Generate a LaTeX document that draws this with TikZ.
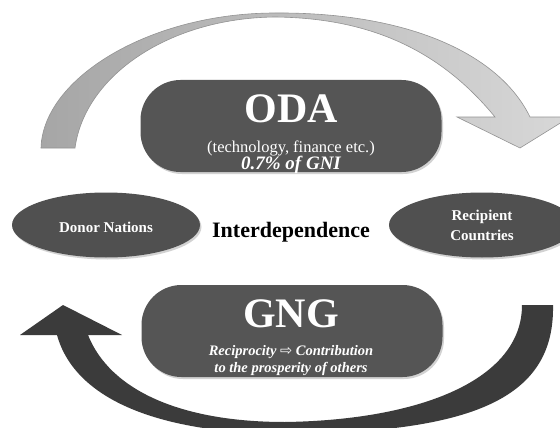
\documentclass[tikz,border=0pt]{standalone}
\usepackage{xcolor}
\usepackage{fontspec}
\setmainfont{Liberation Serif}
\newfontfamily\arrowfont{DejaVu Sans}
\usepackage{tikz}
\usetikzlibrary{shapes.geometric,shadows}
\definecolor{boxgray}{HTML}{555555}
\definecolor{nationgray}{HTML}{505050}
\definecolor{odaleft}{HTML}{A6A6A6}
\definecolor{odaright}{HTML}{D8D8D8}
\definecolor{gngdark}{HTML}{3B3B3B}
\tikzset{main box/.style={rectangle,rounded corners=40pt,fill=boxgray,minimum width=301pt,minimum height=92pt,inner sep=0pt,
              drop shadow={opacity=0.35,shadow xshift=1.5pt,shadow yshift=-2pt}},
         nation node/.style={ellipse,fill=nationgray,minimum width=188pt,minimum height=65pt,inner sep=0pt,
              drop shadow={opacity=0.35,shadow xshift=1.5pt,shadow yshift=-2pt}},
         white text/.style={text=white,inner sep=0pt,anchor=base,align=center},
            }

\begin{document}
\begin{tikzpicture}[x=1pt,y=-1pt]
	\useasboundingbox (0,0) rectangle (560,428);
	\fill[white] (0,0) rectangle (560,428);
	\clip (0,0) rectangle (560,428);

	\draw[draw=gray!85,line width=0.6pt,left color=odaleft,right color=odaright]
		(41,148) .. controls (43,78) and (150,13) .. (275,13)
		.. controls (410,12) and (500,55) .. (530,117) -- (570,117) -- (520,148) -- (457,117) -- (495,117)
		.. controls (440,50) and (370,18) .. (275,17)
		.. controls (170,18) and (85,75) .. (75,148) -- cycle;

	\fill[gngdark]
		(553,305) .. controls (555,400) and (470,432) .. (290,434)
		.. controls (160,434) and (75,400) .. (57,335) -- (20,335) -- (63,305) -- (122,335) -- (88,335)
		.. controls (110,390) and (180,422) .. (285,422)
		.. controls (420,420) and (522,380) .. (522,305) -- cycle;

	\node[main box] (oda) at (291,126) {};
	\node[white text,font=\bfseries\fontsize{42}{42}\selectfont] (odatitle) at (291,122) {ODA};
	\node[white text,font=\fontsize{16.5}{17}\selectfont] (odasub) at (291,152) {(technology, finance etc.)};
	\node[white text,font=\bfseries\itshape\fontsize{19}{19}\selectfont] (odagni) at (291,169) {0.7\% of GNI};

	\node[main box] (gng) at (292,331) {};
	\node[white text,font=\bfseries\fontsize{42}{42}\selectfont] (gngtitle) at (291,327) {GNG};
	\node[white text,font=\bfseries\itshape\fontsize{14.5}{15}\selectfont] (gngline1) at (291,355) {Reciprocity {\arrowfont\mdseries\upshape ⇨} Contribution};
	\node[white text,font=\bfseries\itshape\fontsize{14.5}{15}\selectfont] (gngline2) at (291,372) {to the prosperity of others};

	\node[nation node] (donor) at (106,225) {};
	\node[white text,font=\bfseries\fontsize{15}{15}\selectfont] (donortext) at (106,232) {Donor Nations};
	\node[nation node,minimum width=186pt] (recipient) at (482,225) {};
	\node[white text,font=\bfseries\fontsize{15}{15}\selectfont] (recipienttop) at (482,220) {Recipient};
	\node[white text,font=\bfseries\fontsize{15}{15}\selectfont] (recipientbottom) at (482,240) {Countries};

	\node[inner sep=0pt,anchor=base,font=\bfseries\fontsize{22}{22}\selectfont] (interdep) at (291,237) {Interdependence};
\end{tikzpicture}
\end{document}
